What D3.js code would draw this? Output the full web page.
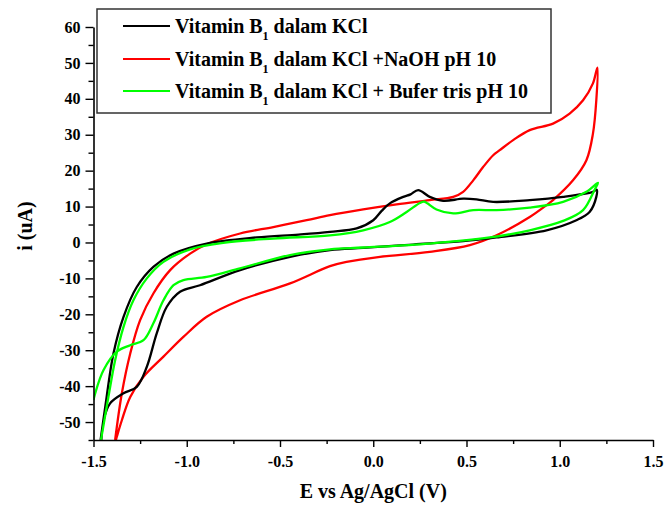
<!DOCTYPE html>
<html>
<head>
<meta charset="utf-8">
<script src="https://cdn.jsdelivr.net/npm/d3@7"></script>
<style>
  html, body { margin: 0; padding: 0; background: #fff; }
  svg { display: block; }
  text { font-family: "Liberation Serif", "Times New Roman", serif; font-weight: bold; fill: #000; }
</style>
</head>
<body>
<svg id="chart" width="664" height="506"></svg>
<script>
// ---- data (E in V vs Ag/AgCl, i in uA) ----
const kclE = [-1.462,-1.437,-1.393,-1.339,-1.268,-1.179,-1.071,-0.893,-0.625,-0.400,-0.232,-0.089,0.000,0.045,0.089,0.161,0.200,0.241,0.303,0.375,0.482,0.554,0.643,0.839,1.018,1.178,1.198,1.196,1.160,1.089,0.929,0.661,0.482,0.214,-0.054,-0.232,-0.446,-0.714,-0.929,-1.036,-1.107,-1.161,-1.214,-1.268,-1.339,-1.411,-1.446,-1.458];
const kclI = [-55.0,-45.8,-30.9,-20.7,-12.4,-6.8,-3.1,-0.3,1.4,2.2,2.95,3.9,6.2,8.8,10.9,12.7,13.4,14.6,12.7,11.6,12.2,12.0,11.3,11.8,12.7,14.1,14.7,12.7,8.5,6.2,3.4,1.4,0.36,-0.57,-1.5,-2.1,-4.0,-7.7,-11.9,-13.7,-17.9,-25.3,-34.6,-40.2,-42.0,-44.8,-49.5,-55.0];

const naohE = [-1.384,-1.348,-1.303,-1.250,-1.179,-1.089,-0.982,-0.893,-0.714,-0.536,-0.357,-0.232,-0.054,0.125,0.303,0.429,0.482,0.536,0.589,0.643,0.678,0.750,0.839,0.964,1.053,1.125,1.178,1.202,1.196,1.178,1.143,1.071,0.964,0.929,0.839,0.661,0.518,0.303,0.036,-0.143,-0.232,-0.446,-0.714,-0.893,-1.018,-1.125,-1.232,-1.303,-1.348,-1.375,-1.380];
const naohI = [-55.0,-42.0,-30.9,-21.6,-14.2,-7.7,-3.1,-0.5,2.5,4.3,6.2,7.6,9.2,10.6,11.8,12.7,14.1,17.3,21.0,24.3,25.7,28.5,31.3,33.1,35.9,39.6,44.3,48.7,39.6,30.3,22.9,17.3,11.8,10.4,7.1,2.0,-0.75,-2.6,-4.0,-5.4,-6.6,-11.4,-16.1,-20.7,-26.3,-31.8,-37.4,-43.0,-49.5,-54.1,-55.0];

const trisE = [-1.460,-1.420,-1.384,-1.339,-1.286,-1.214,-1.125,-0.982,-0.804,-0.536,-0.232,-0.054,0.089,0.179,0.250,0.272,0.290,0.339,0.429,0.536,0.661,0.839,1.018,1.143,1.205,1.187,1.125,1.018,0.839,0.625,0.303,-0.054,-0.232,-0.446,-0.714,-0.893,-1.018,-1.071,-1.125,-1.179,-1.232,-1.303,-1.375,-1.446,-1.491,-1.500];
const trisI = [-55.0,-43.0,-32.8,-23.5,-16.1,-10.0,-5.4,-1.9,-0.1,1.1,2.0,3.4,5.7,8.5,11.0,11.4,10.9,9.2,8.1,9.0,9.0,9.7,11.3,14.1,16.6,14.7,9.0,6.0,3.4,1.4,-0.3,-1.4,-1.9,-3.5,-7.2,-9.6,-10.5,-11.9,-16.1,-22.5,-27.2,-28.6,-30.4,-35.5,-42.0,-43.9];

const seriesNames = ["Vitamin B|1| dalam KCl", "Vitamin B|1| dalam KCl +NaOH pH 10", "Vitamin B|1| dalam KCl + Bufer tris pH 10"];
const seriesColors = ["#000000", "#ff0000", "#00ff00"];

const xTicks = [-1.5, -1.0, -0.5, 0.0, 0.5, 1.0, 1.5];
const xMinorTicks = [-1.25, -0.75, -0.25, 0.25, 0.75, 1.25];
const yTicks = [-50, -40, -30, -20, -10, 0, 10, 20, 30, 40, 50, 60];
const yMinorTicks = [-55, -45, -35, -25, -15, -5, 5, 15, 25, 35, 45, 55];

const xTitle = "E vs Ag/AgCl (V)";
const yTitle = "i (uA)";

// ---- layout ----
const svg = d3.select("#chart");
const x = d3.scaleLinear().domain([-1.5, 1.5]).range([93.5, 653]);
const y = d3.scaleLinear().domain([-55, 60]).range([440, 27]);

svg.append("defs").append("clipPath").attr("id", "plotclip")
  .append("rect").attr("x", x(-1.5)).attr("y", y(60)).attr("width", x(1.5) - x(-1.5)).attr("height", y(-55) - y(60));

// curves
const series = [
  { E: kclE, I: kclI },
  { E: naohE, I: naohI },
  { E: trisE, I: trisI }
];
const line = d3.line().x(d => x(d[0])).y(d => y(d[1])).curve(d3.curveCatmullRom.alpha(0.5));
const curvesG = svg.append("g").attr("clip-path", "url(#plotclip)");
[1, 0, 2].forEach(k => {
  const s = series[k];
  const pts = s.E.map((e, j) => [e, s.I[j]]);
  curvesG.append("path").datum(pts)
    .attr("d", line)
    .attr("fill", "none")
    .attr("stroke", seriesColors[k])
    .attr("stroke-width", 2.3)
    .attr("stroke-linejoin", "round");
});

// axes
const fmtX = d => d3.format(".1f")(d).replace("−", "-");
const xAxis = d3.axisBottom(x).tickValues(xTicks).tickSize(7).tickSizeOuter(0).tickPadding(9).tickFormat(fmtX);
svg.append("g").attr("transform", `translate(0,${y(-55)})`).call(xAxis);
const xMinor = svg.append("g").attr("transform", `translate(0,${y(-55)})`)
  .call(d3.axisBottom(x).tickValues(xMinorTicks).tickSize(4).tickSizeOuter(0).tickFormat(""));
xMinor.select(".domain").remove();

const yAxis = d3.axisLeft(y).tickValues(yTicks).tickSize(8).tickSizeOuter(0).tickPadding(5).tickFormat(d => String(d));
svg.append("g").attr("transform", `translate(${x(-1.5)},0)`).call(yAxis);
const yMinor = svg.append("g").attr("transform", `translate(${x(-1.5)},0)`)
  .call(d3.axisLeft(y).tickValues(yMinorTicks).tickSize(5).tickSizeOuter(0).tickFormat(""));
yMinor.select(".domain").remove();

svg.selectAll(".domain").attr("stroke", "#000").attr("stroke-width", 1.6);
svg.selectAll(".tick line").attr("stroke", "#000").attr("stroke-width", 1.4);
svg.selectAll(".tick text").attr("font-family", "Liberation Serif, Times New Roman, serif")
  .attr("font-weight", "bold").attr("font-size", 16).attr("fill", "#000");

// axis titles
svg.append("text").attr("x", (x(-1.5) + x(1.5)) / 2).attr("y", 498)
  .attr("text-anchor", "middle").attr("font-size", 20).text(xTitle);
svg.append("text").attr("transform", `translate(32,${226}) rotate(-90)`)
  .attr("text-anchor", "middle").attr("font-size", 20).text(yTitle);

// legend
const lg = svg.append("g");
lg.append("rect").attr("x", 97).attr("y", 9).attr("width", 454).attr("height", 104)
  .attr("fill", "#fff").attr("stroke", "#333").attr("stroke-width", 1.5);
const rowsY = [26, 59, 91];
seriesNames.forEach((name, k) => {
  lg.append("line").attr("x1", 123).attr("x2", 170).attr("y1", rowsY[k]).attr("y2", rowsY[k])
    .attr("stroke", seriesColors[k]).attr("stroke-width", 2);
  const parts = name.split("|");
  const t = lg.append("text").attr("x", 175).attr("y", rowsY[k] + 7).attr("font-size", 20);
  t.append("tspan").text(parts[0]);
  t.append("tspan").attr("dy", 7).attr("font-size", 12).text(parts[1]);
  t.append("tspan").attr("dy", -7).text(parts[2]);
});
</script>
</body>
</html>
